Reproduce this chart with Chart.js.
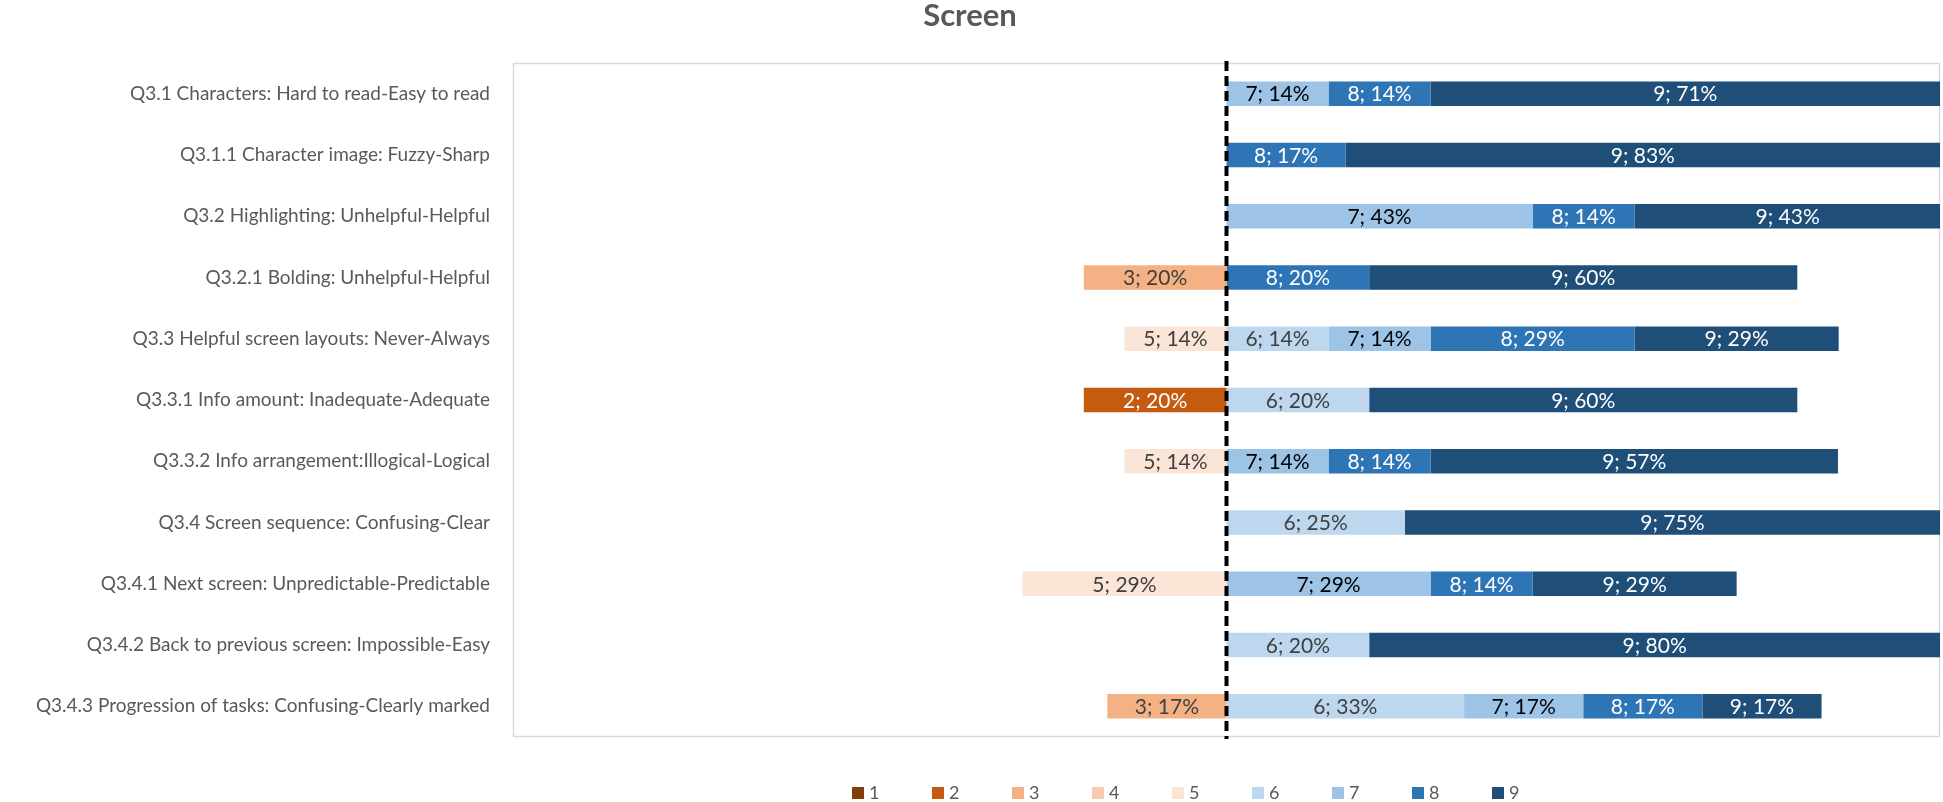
<!DOCTYPE html>
<html>
<head>
<meta charset="utf-8">
<script src="https://cdn.jsdelivr.net/npm/chart.js@4/dist/chart.umd.min.js"></script>
<style>
  html, body { margin: 0; padding: 0; background: #fff; }
  #wrap { width: 1943px; height: 802px; position: relative; }
</style>
</head>
<body>
<div id="wrap"><canvas id="chart"></canvas></div>
<script>
const categories = [
  'Q3.1 Characters: Hard to read-Easy to read',
  'Q3.1.1 Character image: Fuzzy-Sharp',
  'Q3.2 Highlighting: Unhelpful-Helpful',
  'Q3.2.1 Bolding: Unhelpful-Helpful',
  'Q3.3 Helpful screen layouts: Never-Always',
  'Q3.3.1 Info amount: Inadequate-Adequate',
  'Q3.3.2 Info arrangement:Illogical-Logical',
  'Q3.4 Screen sequence: Confusing-Clear',
  'Q3.4.1 Next screen: Unpredictable-Predictable',
  'Q3.4.2 Back to previous screen: Impossible-Easy',
  'Q3.4.3 Progression of tasks: Confusing-Clearly marked'
]

const levels = ['1', '2', '3', '4', '5', '6', '7', '8', '9']

// percent of answers per rating, one value per question (null = none)
const rating1 = [null, null, null, null, null, null, null, null, null, null, null]
const rating2 = [null, null, null, null, null, 20, null, null, null, null, null]
const rating3 = [null, null, null, 20, null, null, null, null, null, null, 16.7]
const rating4 = [null, null, null, null, null, null, null, null, null, null, null]
const rating5 = [null, null, null, null, 14.3, null, 14.3, null, 28.6, null, null]
const rating6 = [null, null, null, null, 14.3, 20, null, 25, null, 20, 33.3]
const rating7 = [14.3, null, 42.9, null, 14.3, null, 14.3, null, 28.6, null, 16.7]
const rating8 = [14.3, 16.7, 14.3, 20, 28.6, null, 14.3, null, 14.3, null, 16.7]
const rating9 = [71.4, 83.3, 42.9, 60, 28.6, 60, 57.1, 75, 28.6, 80, 16.7]

const ratings = [rating1, rating2, rating3, rating4, rating5, rating6, rating7, rating8, rating9]

const colors = ['#843C0C', '#C55A11', '#F4B183', '#F8CBAD', '#FBE5D6', '#BDD7EE', '#9DC3E6', '#2E75B6', '#1F4E79']
const labelColors = ['#ffffff', '#ffffff', '#404040', '#404040', '#404040', '#404040', '#000000', '#ffffff', '#ffffff']

const FONT = 'Lato, "Open Sans", sans-serif'

// ratings 1-5 go to the left of the dashed line
const datasets = levels.map((lvl, i) => ({
  label: lvl,
  data: ratings[i].map(v => v == null ? null : (i < 5 ? -v : v)),
  backgroundColor: colors[i],
  borderWidth: 0,
  barPercentage: 0.4,
  categoryPercentage: 1
}))

const frameAndLabels = {
  id: 'frameAndLabels',
  beforeDatasetsDraw(chart) {
    const { ctx, chartArea: a } = chart
    ctx.save()
    ctx.strokeStyle = '#D9D9D9'
    ctx.lineWidth = 1.5
    ctx.strokeRect(a.left + 0.5, a.top + 0.5, a.right - a.left - 1, a.bottom - a.top - 1)
    ctx.restore()
  },
  afterDatasetsDraw(chart) {
    const { ctx, chartArea: a } = chart
    const x0 = chart.scales.x.getPixelForValue(0)
    ctx.save()
    ctx.font = '21px ' + FONT
    ctx.textAlign = 'center'
    ctx.textBaseline = 'middle'
    chart.data.datasets.forEach((ds, i) => {
      chart.getDatasetMeta(i).data.forEach((bar, j) => {
        const v = ds.data[j]
        if (v == null) return
        const p = bar.getProps(['x', 'y', 'base'], true)
        ctx.fillStyle = labelColors[i]
        ctx.fillText(levels[i] + '; ' + Math.round(Math.abs(v)) + '%', (p.x + p.base) / 2, p.y + 1)
      })
    })
    // zero line
    ctx.strokeStyle = '#000'
    ctx.lineWidth = 4
    ctx.setLineDash([10, 5])
    ctx.beginPath()
    ctx.moveTo(x0, a.top - 2)
    ctx.lineTo(x0, a.bottom + 2)
    ctx.stroke()
    ctx.restore()
  },
  afterDraw(chart) {
    const { ctx } = chart
    ctx.save()
    ctx.font = '18px ' + FONT
    ctx.textBaseline = 'middle'
    ctx.textAlign = 'left'
    const y = 793
    chart.data.datasets.forEach((ds, i) => {
      const x = 852 + i * 80
      ctx.fillStyle = ds.backgroundColor
      ctx.fillRect(x, y - 6, 12, 12)
      ctx.fillStyle = '#595959'
      ctx.fillText(ds.label, x + 17, y)
    })
    ctx.restore()
  }
}

new Chart(document.getElementById('chart'), {
  type: 'bar',
  data: { labels: categories, datasets },
  options: {
    indexAxis: 'y',
    responsive: true,
    maintainAspectRatio: false,
    animation: false,
    layout: { padding: { left: 0, right: 3, top: 0, bottom: 65 } },
    plugins: {
      legend: { display: false },
      tooltip: { enabled: false },
      title: {
        display: true,
        text: 'Screen',
        color: '#595959',
        font: { family: FONT, size: 31, weight: 'bold', lineHeight: 1 },
        padding: { top: 0, bottom: 32 }
      }
    },
    scales: {
      x: {
        stacked: true,
        min: -100,
        max: 100,
        display: false
      },
      y: {
        stacked: true,
        grid: { display: false, drawTicks: false },
        border: { display: false },
        ticks: {
          color: '#595959',
          font: { family: FONT, size: 19 },
          padding: 23,
          autoSkip: false
        },
        afterFit(scale) { scale.width = 513 }
      }
    }
  },
  plugins: [frameAndLabels]
})
</script>
</body>
</html>
